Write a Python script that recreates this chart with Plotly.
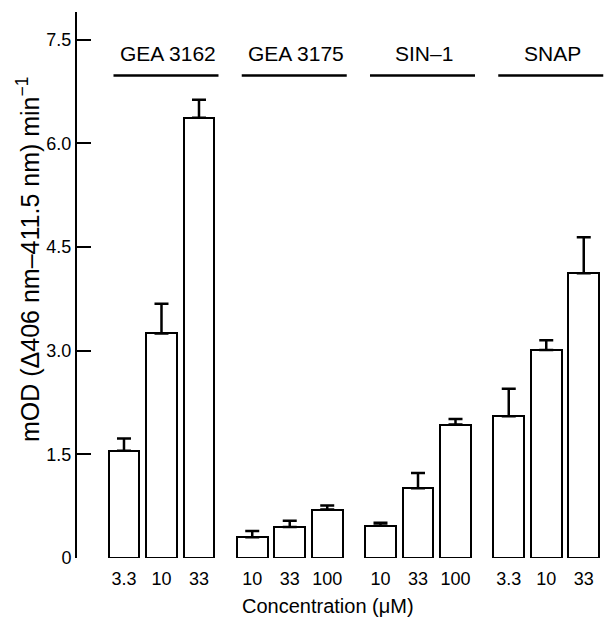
import plotly.graph_objects as go

groups = ["GEA 3162", "GEA 3175", "SIN\u20131", "SNAP"]
concentrations = [["3.3", "10", "33"], ["10", "33", "100"], ["10", "33", "100"], ["3.3", "10", "33"]]
means = [[1.55, 3.25, 6.37], [0.30, 0.45, 0.70], [0.47, 1.01, 1.93], [2.05, 3.01, 4.12]]
sem = [[0.18, 0.43, 0.26], [0.09, 0.09, 0.06], [0.04, 0.22, 0.08], [0.40, 0.14, 0.52]]
y_ticks = [0, 1.5, 3.0, 4.5, 6.0, 7.5]
y_tick_text = ["0", "1.5", "3.0", "4.5", "6.0", "7.5"]

GROUP_STEP = 3.42
FONT = "Liberation Sans, Arial, Helvetica, sans-serif"

xs, ys, es, labels = [], [], [], []
for g in range(len(groups)):
    for i in range(3):
        xs.append(g * GROUP_STEP + i)
        ys.append(means[g][i])
        es.append(sem[g][i])
        labels.append(concentrations[g][i])

fig = go.Figure()
fig.add_trace(go.Bar(
    x=xs, y=ys, width=0.82,
    marker=dict(color="white", line=dict(color="black", width=2)),
    error_y=dict(type="data", array=es, arrayminus=[0] * len(es), symmetric=False,
                 color="black", thickness=2.5, width=7),
    showlegend=False, hoverinfo="skip",
))

shapes = []
annotations = []
for g, name in enumerate(groups):
    c = g * GROUP_STEP + 1 + 0.12
    shapes.append(dict(type="line", xref="x", yref="y", x0=c - 1.4, x1=c + 1.4,
                       y0=6.98, y1=6.98, line=dict(color="black", width=2.5)))
    annotations.append(dict(text=name, xref="x", yref="y", x=c + 0.05, y=7.3,
                            showarrow=False, xanchor="center", yanchor="middle",
                            font=dict(family=FONT, size=21, color="black")))

annotations.append(dict(text="mOD (\u0394406 nm\u2013411.5 nm) min<sup>\u22121</sup>",
                        xref="paper", yref="paper", x=-49 / 527, y=(558 - 260) / 546,
                        textangle=-90, showarrow=False, xanchor="center", yanchor="middle",
                        font=dict(family=FONT, size=25, color="black")))
annotations.append(dict(text="Concentration (\u03bcM)", xref="paper", yref="paper",
                        x=(328 - 77) / 527, y=-(606 - 558) / 546, showarrow=False,
                        xanchor="center", yanchor="middle",
                        font=dict(family=FONT, size=20, color="black")))

fig.update_layout(
    width=604, height=620,
    margin=dict(l=77, r=0, t=12, b=62),
    paper_bgcolor="white", plot_bgcolor="white",
    shapes=shapes, annotations=annotations,
    bargap=0,
    xaxis=dict(range=[-1.253, 12.8], tickmode="array", tickvals=xs, ticktext=labels,
               showline=False, showgrid=False, zeroline=False, ticks="outside",
               ticklen=4, tickcolor="white",
               tickfont=dict(family=FONT, size=18, color="black")),
    yaxis=dict(range=[0, 7.9], tickmode="array", tickvals=y_ticks, ticktext=y_tick_text,
               showline=True, linecolor="black", linewidth=2, showgrid=False,
               zeroline=False, ticks="inside", ticklen=14, tickwidth=2, tickcolor="black",
               tickfont=dict(family=FONT, size=18, color="black")),
)

fig.write_html("out.html", config={"displayModeBar": False},
               post_script="document.body.style.margin='0';document.body.style.overflow='hidden';")
